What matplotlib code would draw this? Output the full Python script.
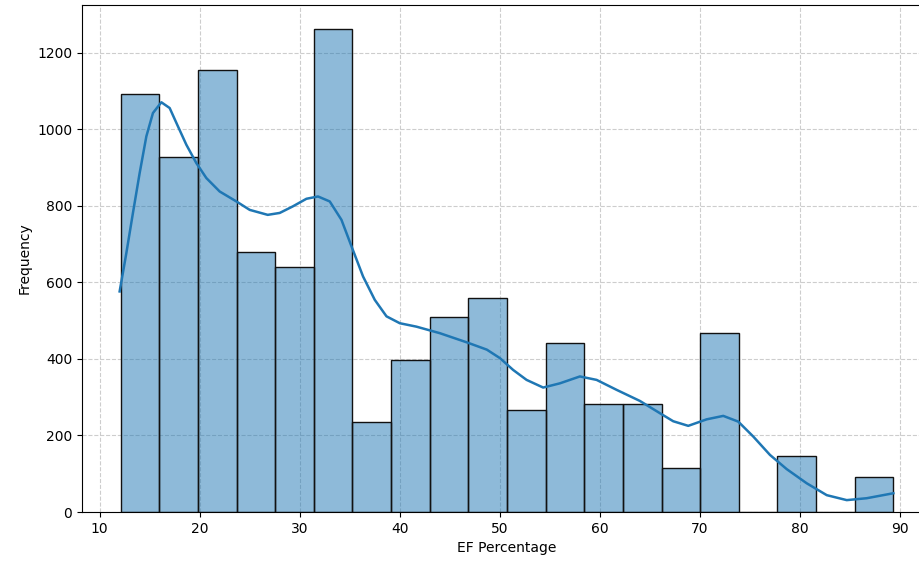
import matplotlib
matplotlib.use("Agg")
import matplotlib.pyplot as plt
import numpy as np

# histogram: 20 equal bins between the min and max EF value
bin_lo, bin_hi, n_bins = 12.1, 89.33, 20
counts = [1091, 928, 1155, 679, 640, 1261, 235, 397, 510, 559,
          267, 441, 283, 281, 116, 467, 0, 146, 0, 91]

# kde curve (scaled to counts)
kde_x = [12.0, 12.67, 13.33, 14.0, 14.67, 15.33, 16.17, 17.0, 17.83, 18.67,
         19.67, 20.67, 22.0, 23.67, 25.0, 26.8, 28.0, 29.3, 30.67, 31.83,
         33.0, 34.17, 35.17, 36.33, 37.5, 38.67, 40.0, 41.67, 44.0, 46.7,
         48.7, 50.0, 51.33, 52.67, 54.33, 56.0, 58.0, 59.67, 61.67, 64.0,
         66.0, 67.33, 68.83, 70.67, 72.33, 73.83, 75.33, 77.0, 78.67, 80.67,
         82.67, 84.67, 86.67, 89.33]
kde_y = [576, 676, 781, 885, 981, 1042, 1070, 1055, 1007, 959,
         911, 872, 837, 811, 789, 776, 781, 798, 818, 824,
         811, 763, 694, 615, 554, 511, 493, 484, 467, 443,
         424, 402, 371, 345, 325, 336, 354, 345, 319, 290,
         258, 237, 225, 242, 251, 236, 197, 149, 112, 75,
         44, 31, 36, 49]

edges = np.linspace(bin_lo, bin_hi, n_bins + 1)
width = edges[1] - edges[0]

fig = plt.figure(figsize=(9.2, 5.63), dpi=100)
ax = fig.add_axes([82 / 920, 51 / 563, 850 / 920, 507 / 563])
ax.bar(edges[:-1], counts, width=width, align="edge",
       color="#1f77b4", alpha=0.5, edgecolor="none")
ax.bar(edges[:-1], counts, width=width, align="edge",
       fill=False, edgecolor="#111111", linewidth=1.0)
ax.plot(kde_x, kde_y, color="#1f77b4", lw=1.8)

ax.set_xlim(bin_lo - 0.05 * (bin_hi - bin_lo), bin_hi + 0.05 * (bin_hi - bin_lo))
ax.set_ylim(0, max(counts) * 1.05)
ax.set_xticks(range(10, 100, 10))
ax.spines["right"].set_visible(False)
ax.grid(True, ls="--", color="#c8c8c8", alpha=0.9)
ax.set_axisbelow(True)
ax.set_xlabel("EF Percentage")
ax.set_ylabel("Frequency")
fig.savefig("out.png", dpi=100)
